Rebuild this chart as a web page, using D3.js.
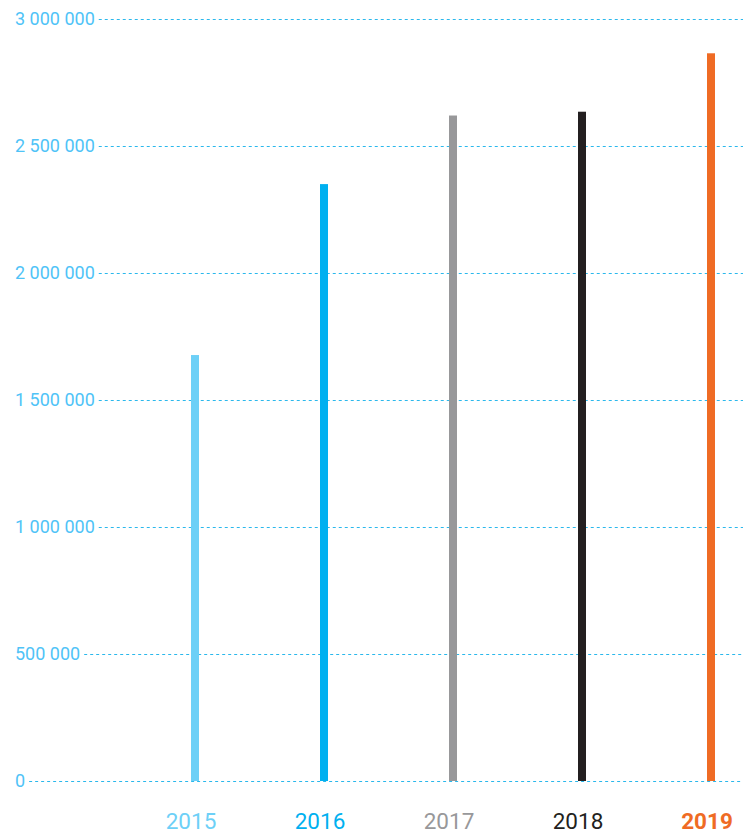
<!DOCTYPE html>
<html><head><meta charset="utf-8">
<script src="https://cdn.jsdelivr.net/npm/d3@7"></script>
<style>body{margin:0;background:#fff}svg{display:block}text{font-family:Roboto,"Noto Sans",sans-serif}</style>
</head><body><svg id="c" width="743" height="835"></svg>
<script>
const years = ["2015","2016","2017","2018","2019"];
const values = [1677000, 2350000, 2620000, 2635000, 2865000];
const colors = ["#6dd0f7","#00b0f0","#98989a","#231f20","#ef6b24"];
const tickValues = [0, 500000, 1000000, 1500000, 2000000, 2500000, 3000000];
const tickLabels = ["0","500 000","1 000 000","1 500 000","2 000 000","2 500 000","3 000 000"];

const svg = d3.select("#c");
const y = d3.scaleLinear().domain([0, 3000000]).range([781, 19]);
const x = d3.scalePoint().domain(years).range([195, 711]);

const grid = svg.append("g");
tickValues.forEach((v,i)=>{
  const t = grid.append("text").attr("x",15).attr("y",y(v)).attr("dy","0.35em")
    .attr("font-size",18).attr("fill","#4fc3f7").text(tickLabels[i]);
  const w = t.node().getComputedTextLength();
  grid.append("line").attr("x1",15+w+4).attr("x2",743).attr("y1",y(v)+0.5).attr("y2",y(v)+0.5)
    .attr("stroke","#2bb8ec").attr("stroke-width",1).attr("stroke-dasharray","3,3");
});

svg.append("g").selectAll("rect").data(years).join("rect")
  .attr("x",d=>x(d)-4).attr("width",8)
  .attr("y",(d,i)=>y(values[i])).attr("height",(d,i)=>y(0)-y(values[i]))
  .attr("fill",(d,i)=>colors[i]);

svg.append("g").selectAll("text").data(years).join("text")
  .attr("x",d=>x(d)-4).attr("y",829).attr("text-anchor","middle")
  .attr("font-size",22.5).attr("font-weight",(d,i)=>i===4?"bold":"normal")
  .attr("fill",(d,i)=>colors[i]).text(d=>d);
</script></body></html>
